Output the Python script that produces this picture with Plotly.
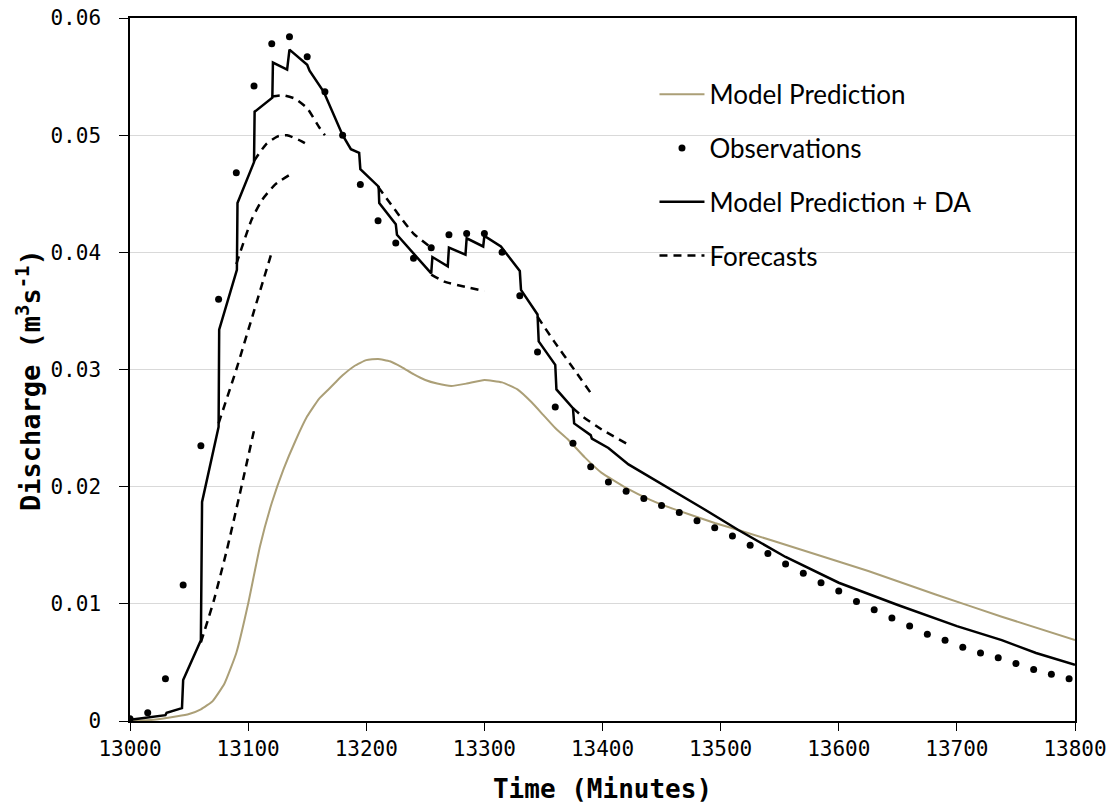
import plotly.graph_objects as go

# ---------------- data ----------------
obs_time = [13000, 13015, 13030, 13045, 13060, 13075, 13090, 13105, 13120, 13135,
            13150, 13165, 13180, 13195, 13210, 13225, 13240, 13255, 13270, 13285,
            13300, 13315, 13330, 13345, 13360, 13375, 13390, 13405, 13420, 13435,
            13450, 13465, 13480, 13495, 13510, 13525, 13540, 13555, 13570, 13585,
            13600, 13615, 13630, 13645, 13660, 13675, 13690, 13705, 13720, 13735,
            13750, 13765, 13780, 13795]
obs_q = [0.0002, 0.0007, 0.0036, 0.0116, 0.0235, 0.0360, 0.0468, 0.0542, 0.0578, 0.0584,
         0.0567, 0.0537, 0.0500, 0.0458, 0.0427, 0.0408, 0.0395, 0.0404, 0.0415, 0.0416,
         0.0416, 0.0400, 0.0363, 0.0315, 0.0268, 0.0237, 0.0217, 0.0204, 0.0196, 0.0190,
         0.0184, 0.0178, 0.0171, 0.0165, 0.0158, 0.0150, 0.0143, 0.0134, 0.0126, 0.0118,
         0.0111, 0.0102, 0.0095, 0.0088, 0.0081, 0.0074, 0.0069, 0.0063, 0.0058, 0.0054,
         0.0049, 0.0044, 0.0040, 0.0036]

model_time = [13000, 13020, 13040, 13050, 13060, 13070, 13080, 13090, 13100, 13110,
              13120, 13130, 13140, 13150, 13160, 13168, 13173, 13180, 13190, 13200,
              13210, 13220, 13230, 13240, 13250, 13260, 13272, 13285, 13300, 13315,
              13328, 13340, 13350, 13360, 13371, 13385, 13399, 13420, 13440, 13460,
              13495, 13515, 13569, 13625, 13682, 13738, 13800]
model_q = [0.0000, 0.0001, 0.0004, 0.0006, 0.0010, 0.0017, 0.0032, 0.0058, 0.0100, 0.0149,
           0.0186, 0.0215, 0.0239, 0.0260, 0.0275, 0.0283, 0.0288, 0.0295, 0.0303, 0.0308,
           0.0309, 0.0307, 0.0302, 0.0296, 0.0291, 0.0288, 0.0286, 0.0288, 0.0291, 0.0289,
           0.0283, 0.0272, 0.0261, 0.0250, 0.0240, 0.0225, 0.0212, 0.0199, 0.0189, 0.0181,
           0.0169, 0.0163, 0.0146, 0.0128, 0.0108, 0.0089, 0.0069]

da_time = [13000, 13030, 13031, 13044, 13045, 13060, 13061, 13075, 13075.5, 13090.5,
           13091, 13105, 13105.5, 13120.5, 13121, 13133, 13135, 13150, 13152, 13164,
           13180, 13187, 13194, 13195, 13210.5, 13211, 13225, 13226, 13255, 13256,
           13269, 13270, 13284, 13285, 13299, 13300, 13314, 13330, 13331, 13345,
           13346, 13360, 13361, 13375, 13376, 13390, 13391, 13405, 13422, 13439,
           13456, 13484, 13515, 13555, 13600, 13650, 13700, 13738, 13767, 13800]
da_q = [0.0001, 0.0005, 0.0007, 0.0011, 0.0035, 0.0069, 0.0187, 0.0251, 0.0334, 0.0385,
        0.0442, 0.0477, 0.0520, 0.0532, 0.0562, 0.0556, 0.0573, 0.0560, 0.0555, 0.0537,
        0.0500, 0.0488, 0.0485, 0.0471, 0.0456, 0.0442, 0.0424, 0.0415, 0.0382, 0.0396,
        0.0388, 0.0404, 0.0398, 0.0412, 0.0405, 0.0414, 0.0405, 0.0384, 0.0368, 0.0347,
        0.0324, 0.0304, 0.0283, 0.0267, 0.0254, 0.0244, 0.0241, 0.0233, 0.0219, 0.0209,
        0.0199, 0.0182, 0.0163, 0.0140, 0.0118, 0.0099, 0.0081, 0.0069, 0.0058, 0.0048]

# forecasts (separate runs separated by None)
fc_time = [13060, 13071, 13082, 13093, 13105, None,
           13075, 13090, 13105, 13120, None,
           13090, 13103, 13112, 13123, 13135, None,
           13105, 13115, 13125, 13133, 13145, 13150, None,
           13120, 13130, 13140, 13150, 13160, 13165, None,
           13210, 13226, 13240, 13255, None,
           13255, 13266, 13286, 13300, None,
           13345, 13359, 13376, 13390, None,
           13375, 13383, 13399, 13420]
fc_q = [0.0067, 0.0103, 0.0146, 0.0194, 0.0248, None,
        0.0254, 0.0300, 0.0350, 0.0400, None,
        0.0390, 0.0428, 0.0445, 0.0458, 0.0466, None,
        0.0478, 0.0492, 0.0499, 0.0500, 0.0495, 0.0492, None,
        0.0533, 0.0534, 0.0531, 0.0523, 0.0507, 0.0500, None,
        0.0456, 0.0434, 0.0416, 0.0404, None,
        0.0381, 0.0375, 0.0370, 0.0367, None,
        0.0345, 0.0324, 0.0300, 0.0280, None,
        0.0267, 0.0260, 0.0249, 0.0237]

y_ticks = [0, 0.01, 0.02, 0.03, 0.04, 0.05, 0.06]
y_tick_text = ["0", "0.01", "0.02", "0.03", "0.04", "0.05", "0.06"]
x_ticks = [13000, 13100, 13200, 13300, 13400, 13500, 13600, 13700, 13800]
x_tick_text = ["13000", "13100", "13200", "13300", "13400", "13500", "13600", "13700", "13800"]

# ---------------- figure ----------------
fig = go.Figure()
fig.add_trace(go.Scatter(x=model_time, y=model_q, mode="lines", name="Model Prediction",
                         line=dict(color="#ab9f77", width=2, shape="spline", smoothing=0.4),
                         legendgroup="a"))
fig.add_trace(go.Scatter(x=obs_time, y=obs_q, mode="markers", name="Observations",
                         marker=dict(color="black", size=7), legendgroup="b"))
fig.add_trace(go.Scatter(x=da_time, y=da_q, mode="lines", name="Model Prediction + DA",
                         line=dict(color="black", width=2.5), legendgroup="c"))
fig.add_trace(go.Scatter(x=fc_time, y=fc_q, mode="lines", name="Forecasts",
                         line=dict(color="black", width=2.5, dash="8px,6px", shape="spline",
                                   smoothing=0.5),
                         connectgaps=False, legendgroup="d"))

mono = "DejaVu Sans Mono"
fig.update_layout(
    width=1108, height=798,
    margin=dict(l=122, r=41, t=10, b=85, autoexpand=False),
    paper_bgcolor="white", plot_bgcolor="white",
    showlegend=True,
    legend=dict(x=0.555, y=0.925, xanchor="left", yanchor="top",
                bgcolor="rgba(0,0,0,0)", font=dict(family="Lato", size=26, color="black"),
                tracegroupgap=17, itemwidth=45),
    xaxis=dict(range=[13000, 13800], tickvals=x_ticks, ticktext=x_tick_text, showgrid=False,
               showline=True, linecolor="black", linewidth=1.5, mirror=True,
               ticks="outside", ticklen=8, tickcolor="black", zeroline=False,
               ticklabeloverflow="allow",
               tickfont=dict(family=mono, size=21, color="black"),
               title=dict(text="<b>Time (Minutes)</b>", standoff=20,
                          font=dict(family=mono, size=26, color="black"))),
    yaxis=dict(range=[0, 0.06], tickvals=y_ticks, ticktext=y_tick_text,
               showgrid=True, gridcolor="#d9d9d9", gridwidth=1.2,
               showline=True, linecolor="black", linewidth=1.5, mirror=True,
               ticks="outside", ticklen=9, tickcolor="black", zeroline=False,
               ticklabelstandoff=14, ticklabeloverflow="allow",
               tickfont=dict(family=mono, size=21, color="black")),
    annotations=[dict(text="<b>Discharge (m<sup>3</sup>s<sup>-1</sup>)</b>",
                      xref="paper", yref="paper", x=-0.108, y=0.485,
                      xanchor="center", yanchor="middle", textangle=-90, showarrow=False,
                      font=dict(family=mono, size=27, color="black"))],
)

fig.write_html("out.html")
